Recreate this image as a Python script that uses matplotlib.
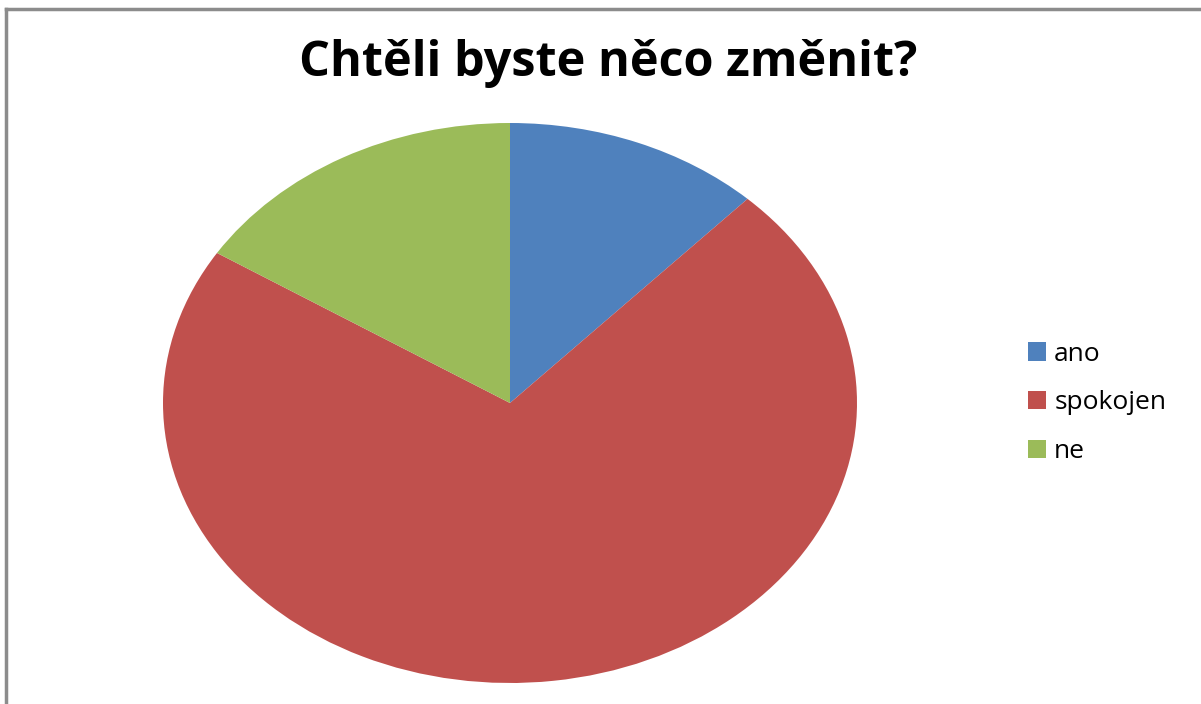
import matplotlib.pyplot as plt
from matplotlib.lines import Line2D

labels = ['ano', 'spokojen', 'ne']
values = [3, 18, 4]
colors = ['#4F81BD', '#C0504D', '#9BBB59']

W, H = 1201, 704
fig = plt.figure(figsize=(W / 100, H / 100), dpi=100)

# grey frame (top and left edges visible)
fig.add_artist(Line2D([6 / W, 1], [1 - 9 / H, 1 - 9 / H], color='#8c8c8c', lw=2.5))
fig.add_artist(Line2D([6 / W, 6 / W], [0, 1 - 9 / H], color='#8c8c8c', lw=2.5))

ax = fig.add_axes([163 / W, 21 / H, 694 / W, 560 / H])
wedges, _ = ax.pie(values, colors=colors, startangle=90, counterclock=False,
                   wedgeprops=dict(linewidth=0))
ax.set_aspect('auto')
ax.set_xlim(-1, 1)
ax.set_ylim(-1, 1)
ax.axis('off')

fig.text(608 / W, 1 - 64 / H, 'Chtěli byste něco změnit?', ha='center', va='center',
         fontsize=35, fontweight='bold', family='Open Sans')

fig.legend(wedges, labels, loc='center left', bbox_to_anchor=(1004 / W, 1 - 403 / H),
           frameon=False, handlelength=0.7, handleheight=0.7, handletextpad=0.3,
           labelspacing=0.9, prop={'family': 'Open Sans', 'size': 19})

fig.savefig('out.png', dpi=100)
